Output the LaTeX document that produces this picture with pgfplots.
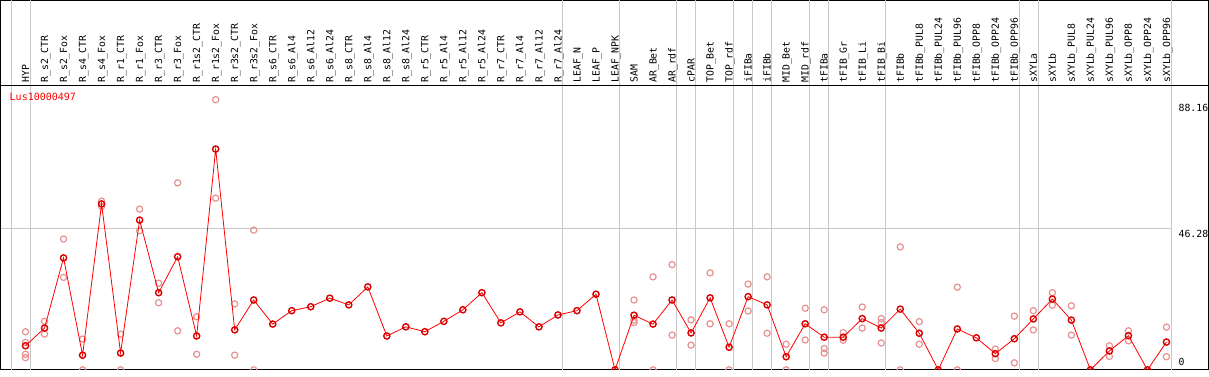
\documentclass[border=0pt]{standalone}
\usepackage{fontspec}
\usepackage{pgfplots}
\pgfplotsset{compat=1.18}
\newfontfamily\mono{DejaVu Sans Mono}
\definecolor{rep}{RGB}{232,145,145}
\definecolor{gridc}{RGB}{200,200,200}
\tikzset{lab/.style={rotate=90, anchor=west, inner sep=0pt, text height=7.1pt, text depth=0pt, font=\mono\fontsize{9.8}{10}\selectfont}}
\newcommand{\lab}[2]{\node[lab] at (axis cs:#1,94.1) {#2};}
\begin{document}
\begin{tikzpicture}
\begin{axis}[
 scale only axis, width=1207pt, height=369pt,
 xmin=-0.3158, xmax=63.2105, ymin=0, ymax=121.11,
 axis line style={black, line width=1pt},
 xtick=\empty, ytick=\empty,
 extra x ticks={0.24,1.24,29.24,32.24,35.24,36.24,38.24,39.24,40.24,42.24,43.24,46.24,53.24,54.24,61.24},
 extra x tick labels={},
 extra x tick style={grid=major, major grid style={gridc, line width=0.8pt}, major tick length=0pt},
 clip marker paths=true,
]
\draw[gridc, line width=0.8pt] (axis cs:-0.3158,46.28) -- (axis cs:61.24,46.28);
\draw[black, line width=1pt] (axis cs:-0.3158,93.22) -- (axis cs:63.2105,93.22);

% replicates
\addplot[only marks, mark=o, mark size=3.1pt, rep, mark options={line width=1.2pt}] coordinates {
(1,12.5) (1,9.0) (1,5.1) (1,4.0)
(2,15.9) (2,11.7)
(3,42.9) (3,30.3)
(4,10.1) (4,0)
(5,55.3) (5,53.6)
(6,11.7) (6,0)
(7,52.7) (7,45.6)
(8,28.4) (8,22.0)
(9,61.3) (9,12.8)
(10,17.4) (10,5.1)
(11,88.6) (11,56.3)
(12,21.6) (12,4.8)
(13,45.8) (13,0)
(33,22.9) (33,16.3) (33,15.5)
(34,30.5) (34,0)
(35,34.5) (35,11.4)
(36,16.4) (36,8.1)
(37,31.8) (37,15.1)
(38,15.1) (38,0)
(39,28.1) (39,19.3)
(40,30.5) (40,12.0)
(41,8.4) (41,0)
(42,20.2) (42,9.8)
(43,19.7) (43,7.0) (43,5.5)
(44,12.2) (44,9.7)
(45,20.6) (45,13.7)
(46,16.8) (46,15.5) (46,8.8)
(47,40.3) (47,0)
(48,15.8) (48,8.4)
(50,27.1) (50,0)
(52,6.8) (52,3.7)
(53,17.6) (53,2.3)
(54,19.4) (54,13.1)
(55,25.3) (55,21.2)
(56,21.0) (56,11.4)
(58,7.9) (58,4.4)
(59,12.8) (59,9.5)
(61,14.0) (61,4.3)
};

% means
\addplot[red, line width=0.8pt, mark=o, mark size=3.1pt, mark options={line width=1.4pt, draw=red!85!black}] coordinates {
(1,7.9) (2,13.7) (3,36.7) (4,4.8) (5,54.4) (6,5.5) (7,49.1) (8,25.3) (9,37.1) (10,11.1)
(11,72.4) (12,13.1) (13,22.9) (14,15.0) (15,19.4) (16,20.7) (17,23.5) (18,21.3) (19,27.2) (20,11.1)
(21,14.1) (22,12.5) (23,15.9) (24,19.7) (25,25.3) (26,15.4) (27,19.0) (28,14.1) (29,18.0) (30,19.4)
(31,24.8) (32,0) (33,17.9) (34,15.0) (35,22.9) (36,12.1) (37,23.6) (38,7.4) (39,24.0) (40,21.3)
(41,4.3) (42,15.1) (43,10.7) (44,10.7) (45,16.8) (46,13.7) (47,19.9) (48,12.0) (49,0) (50,13.4)
(51,10.5) (52,5.3) (53,10.2) (54,16.7) (55,23.2) (56,16.3) (57,0) (58,6.2) (59,11.2) (60,0)
(61,9.1)
};

\node[anchor=north west, text=red, inner sep=0pt, font=\mono\fontsize{10}{10}\selectfont] at (axis cs:0.158,90.7) {Lus10000497};
\node[anchor=north west, inner sep=0pt, font=\mono\fontsize{9.8}{10}\selectfont] at (axis cs:61.63,87.3) {88.16};
\node[anchor=north west, inner sep=0pt, font=\mono\fontsize{9.8}{10}\selectfont] at (axis cs:61.63,45.95) {46.28};
\node[anchor=south west, inner sep=0pt, font=\mono\fontsize{9.8}{10}\selectfont] at (axis cs:61.63,1.31) {0};

\lab{1}{HYP}
\lab{2}{R\_s2\_CTR}
\lab{3}{R\_s2\_Fox}
\lab{4}{R\_s4\_CTR}
\lab{5}{R\_s4\_Fox}
\lab{6}{R\_r1\_CTR}
\lab{7}{R\_r1\_Fox}
\lab{8}{R\_r3\_CTR}
\lab{9}{R\_r3\_Fox}
\lab{10}{R\_r1s2\_CTR}
\lab{11}{R\_r1s2\_Fox}
\lab{12}{R\_r3s2\_CTR}
\lab{13}{R\_r3s2\_Fox}
\lab{14}{R\_s6\_CTR}
\lab{15}{R\_s6\_Al4}
\lab{16}{R\_s6\_Al12}
\lab{17}{R\_s6\_Al24}
\lab{18}{R\_s8\_CTR}
\lab{19}{R\_s8\_Al4}
\lab{20}{R\_s8\_Al12}
\lab{21}{R\_s8\_Al24}
\lab{22}{R\_r5\_CTR}
\lab{23}{R\_r5\_Al4}
\lab{24}{R\_r5\_Al12}
\lab{25}{R\_r5\_Al24}
\lab{26}{R\_r7\_CTR}
\lab{27}{R\_r7\_Al4}
\lab{28}{R\_r7\_Al12}
\lab{29}{R\_r7\_Al24}
\lab{30}{LEAF\_N}
\lab{31}{LEAF\_P}
\lab{32}{LEAF\_NPK}
\lab{33}{SAM}
\lab{34}{AR\_Bet}
\lab{35}{AR\_rdf}
\lab{36}{cPAR}
\lab{37}{TOP\_Bet}
\lab{38}{TOP\_rdf}
\lab{39}{iFIBa}
\lab{40}{iFIBb}
\lab{41}{MID\_Bet}
\lab{42}{MID\_rdf}
\lab{43}{tFIBa}
\lab{44}{tFIB\_Gr}
\lab{45}{tFIB\_Li}
\lab{46}{tFIB\_Bi}
\lab{47}{tFIBb}
\lab{48}{tFIBb\_PUL8}
\lab{49}{tFIBb\_PUL24}
\lab{50}{tFIBb\_PUL96}
\lab{51}{tFIBb\_OPP8}
\lab{52}{tFIBb\_OPP24}
\lab{53}{tFIBb\_OPP96}
\lab{54}{sXYLa}
\lab{55}{sXYLb}
\lab{56}{sXYLb\_PUL8}
\lab{57}{sXYLb\_PUL24}
\lab{58}{sXYLb\_PUL96}
\lab{59}{sXYLb\_OPP8}
\lab{60}{sXYLb\_OPP24}
\lab{61}{sXYLb\_OPP96}
\end{axis}
\end{tikzpicture}
\end{document}
